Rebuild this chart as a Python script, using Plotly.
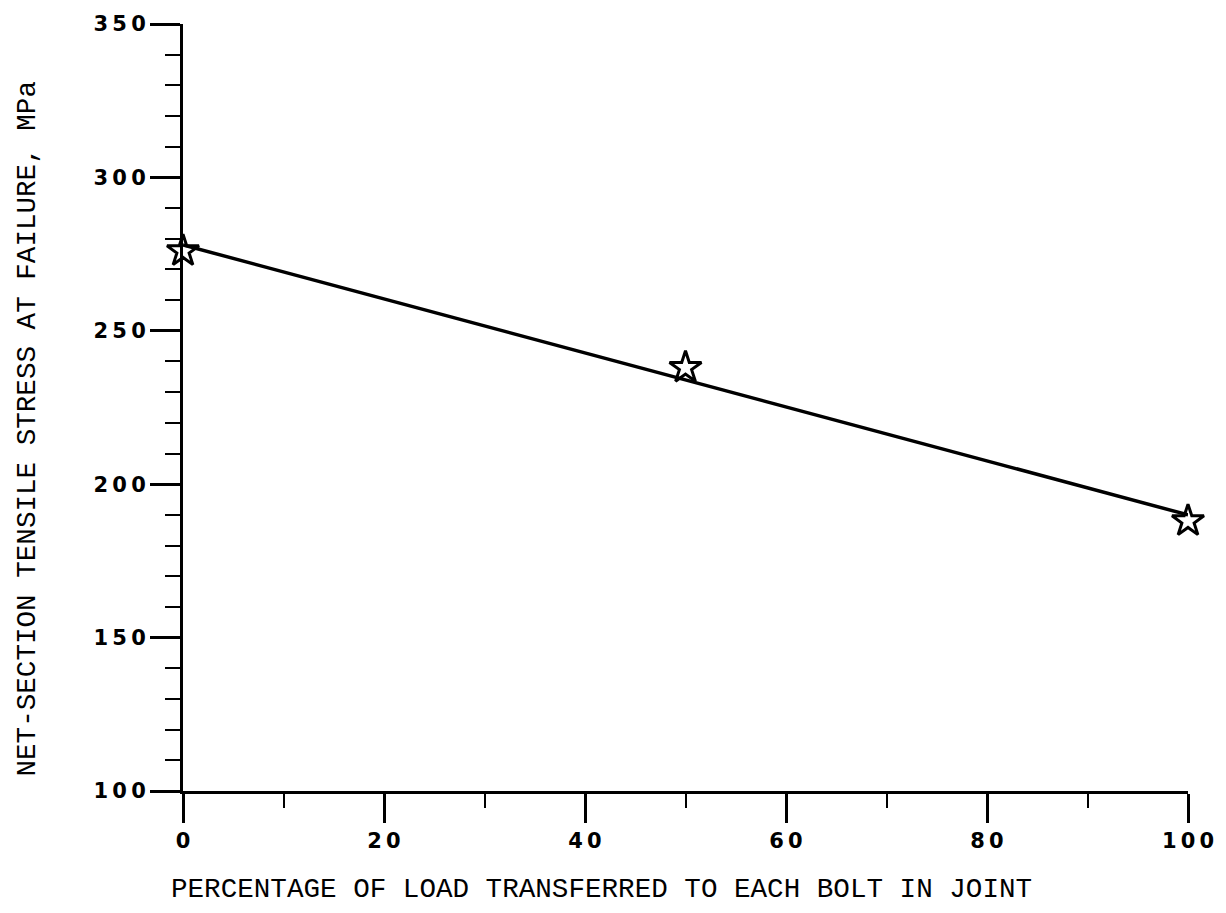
import plotly.graph_objects as go

# Data
line_x = [0, 100]
line_y = [278, 190]
pts_x = [0, 50, 100]
pts_y = [276, 238, 188]

x_ticks = [0, 20, 40, 60, 80, 100]
x_tick_text = ["0", "20", "40", "60", "80", "100"]
y_ticks = [100, 150, 200, 250, 300, 350]
y_tick_text = ["100", "150", "200", "250", "300", "350"]

TS = "\u2009"
def spaced(s):
    return TS.join(list(s))

fig = go.Figure()
fig.add_trace(go.Scatter(x=line_x, y=line_y, mode="lines",
                         line=dict(color="black", width=3.5), showlegend=False))
fig.add_trace(go.Scatter(x=pts_x, y=pts_y, mode="markers",
                         marker=dict(symbol="star-open", size=24, color="black",
                                     line=dict(color="black", width=3)),
                         showlegend=False, cliponaxis=False))

tickfont = dict(family="DejaVu Sans", size=21, color="black", weight="bold")
titlefont = dict(family="Liberation Mono", size=27.6, color="black")

fig.update_layout(
    width=1226, height=913,
    margin=dict(l=183, r=38, t=16, b=122),
    paper_bgcolor="white", plot_bgcolor="white",
    xaxis=dict(range=[0, 100], showgrid=False, zeroline=False,
               showline=True, linecolor="black", linewidth=3,
               tickmode="array", tickvals=x_ticks,
               ticktext=[spaced(t) for t in x_tick_text],
               ticks="outside", ticklen=29, tickwidth=2.5, tickcolor="black",
               minor=dict(tickmode="array", tickvals=[10, 30, 50, 70, 90],
                          ticks="outside", ticklen=14, tickwidth=2, tickcolor="black"),
               tickfont=tickfont),
    yaxis=dict(range=[100, 350], showgrid=False, zeroline=False,
               showline=True, linecolor="black", linewidth=3,
               tickmode="array", tickvals=y_ticks,
               ticktext=[spaced(t) for t in y_tick_text],
               ticks="outside", ticklen=30, tickwidth=2.5, tickcolor="black",
               minor=dict(dtick=10, ticks="outside", ticklen=15, tickwidth=2,
                          tickcolor="black"),
               tickfont=tickfont),
    annotations=[
        dict(text="PERCENTAGE OF LOAD TRANSFERRED TO EACH BOLT IN JOINT",
             xref="paper", yref="paper", x=0.5, y=0, yshift=-98, xshift=-84,
             xanchor="center", yanchor="middle", showarrow=False, font=titlefont),
        dict(text="NET-SECTION TENSILE STRESS AT FAILURE, MPa",
             xref="paper", yref="paper", x=0, y=0.5, xshift=-156, yshift=-22,
             textangle=-90, xanchor="center", yanchor="middle",
             showarrow=False, font=titlefont),
    ],
)

fig.write_html("out.html")
